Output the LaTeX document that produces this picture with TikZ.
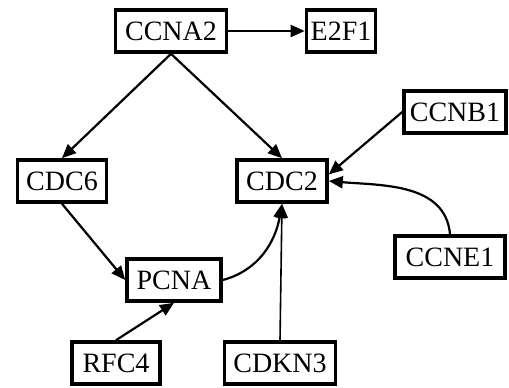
\documentclass[tikz,border=0pt]{standalone}
\usepackage{fontspec}
\setmainfont{Liberation Serif}
\usepackage{tikz}
\usetikzlibrary{arrows.meta, calc}
\tikzstyle{gene} = [draw=black, line width=1.8pt, inner sep=0, outer sep=0.9pt,
    minimum height=21pt, fill=white, font=\fontsize{14}{16}\selectfont, align=center]
\tikzstyle{link} = [line width=1.1pt, -{Triangle[length=7pt, width=6pt]}]

\begin{document}
\begin{tikzpicture}[x=0.5pt, y=-0.5pt]
\useasboundingbox (0,0) rectangle (509,387);

%%% genes
\node[gene, minimum width=55.5pt] (ccna2) at (171,31) {CCNA2};
\node[gene, minimum width=34.5pt] (e2f1) at (341,31) {E2F1};

\node[gene, minimum width=44.5pt] (cdc6) at (62,181) {CDC6};
\node[gene, minimum width=45pt] (cdc2) at (282,181) {CDC2};
\node[gene, minimum width=51pt] (ccnb1) at (455,112) {CCNB1};
\node[gene, minimum width=55pt] (ccne1) at (450,257) {CCNE1};

\node[gene, minimum width=47pt] (pcna) at (174,280) {PCNA};
\node[gene, minimum width=44pt] (rfc4) at (116,363) {RFC4};
\node[gene, minimum width=55.5pt] (cdkn3) at (280,363) {CDKN3};

%%% interactions
\draw[link] (ccna2) -- (e2f1);
\draw[link] (ccna2.south) -- (cdc6.north);
\draw[link] (ccna2.south) -- (cdc2.north);
\draw[link] (cdc6.south) -- (pcna.west);
\draw[link] (rfc4.north) -- (pcna.south);
\draw[link] (pcna.east) to[out=15, in=-100] (cdc2.south);
\draw[link, line width=0.8pt] (cdkn3.north) -- (cdc2.south);
\draw[link] (ccnb1.west) -- (cdc2.8);
\draw[link] (ccne1.north) to[out=95, in=-5] (cdc2.east);

\end{tikzpicture}
\end{document}
